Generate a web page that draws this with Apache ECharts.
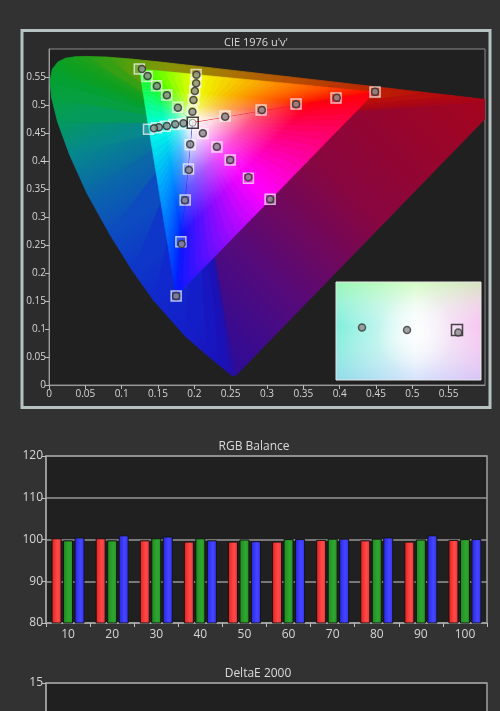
<!DOCTYPE html>
<html>
<head>
<meta charset="utf-8">
<title>Calibration report</title>
<script src="https://cdn.jsdelivr.net/npm/echarts@6/dist/echarts.min.js"></script>
<style>
  html, body { margin: 0; padding: 0; background: #323232; overflow: hidden; }
  #chart { width: 500px; height: 880px; }
</style>
</head>
<body>
<div id="chart"></div>
<script>
// ---- CIE 1931 2° spectral locus expressed in CIE 1976 u'v' (380–700 nm) ----
const locusNm = [380, 420, 430, 440, 450, 460, 470, 475, 480, 485, 490, 495, 500, 505, 510, 515,
                 520, 525, 530, 540, 550, 560, 570, 580, 590, 600, 610, 620, 630, 640, 650, 700];
const spectralLocus = [
  [0.2568, 0.0166], [0.2522, 0.0169], [0.2461, 0.0226], [0.2347, 0.0350], [0.2161, 0.0549],
  [0.1877, 0.0871], [0.1441, 0.1510], [0.1147, 0.2044], [0.0828, 0.2708], [0.0521, 0.3427],
  [0.0282, 0.4117], [0.0119, 0.4698], [0.0035, 0.5131], [0.0014, 0.5432], [0.0046, 0.5638],
  [0.0123, 0.5770], [0.0231, 0.5837], [0.0360, 0.5861], [0.0501, 0.5868], [0.0792, 0.5856],
  [0.1127, 0.5821], [0.1531, 0.5766], [0.2026, 0.5694], [0.2623, 0.5604], [0.3315, 0.5501],
  [0.4035, 0.5393], [0.4692, 0.5296], [0.5203, 0.5219], [0.5565, 0.5165], [0.5830, 0.5125],
  [0.6005, 0.5099], [0.6234, 0.5065]
];

// ---- Saturation sweeps (20, 40, 60, 80, 100 %) : targets and readings, u'v' ----
const sweepSteps = ['20%', '40%', '60%', '80%', '100%'];
const whiteTarget = [0.1978, 0.4683];
const whiteMeasured = [0.1976, 0.4682];

const redTargets     = [[0.2424, 0.4804], [0.2919, 0.4911], [0.3400, 0.5018], [0.3950, 0.5125], [0.4487, 0.5232]];
const redMeasured    = [[0.2424, 0.4791], [0.2929, 0.4911], [0.3400, 0.5013], [0.3960, 0.5130], [0.4487, 0.5238]];
const greenTargets   = [[0.1770, 0.4960], [0.1620, 0.5180], [0.1480, 0.5345], [0.1350, 0.5510], [0.1242, 0.5643]];
const greenMeasured  = [[0.1774, 0.4952], [0.1622, 0.5173], [0.1485, 0.5339], [0.1357, 0.5518], [0.1279, 0.5643]];
const blueTargets    = [[0.1943, 0.4290], [0.1919, 0.3857], [0.1874, 0.3304], [0.1815, 0.2559], [0.1750, 0.1589]];
const blueMeasured   = [[0.1943, 0.4298], [0.1925, 0.3840], [0.1870, 0.3300], [0.1825, 0.2520], [0.1750, 0.1589]];
const cyanTargets    = [[0.1840, 0.4665], [0.1720, 0.4650], [0.1600, 0.4620], [0.1480, 0.4595], [0.1369, 0.4566]];
const cyanMeasured   = [[0.1851, 0.4673], [0.1737, 0.4655], [0.1622, 0.4625], [0.1512, 0.4602], [0.1444, 0.4584]];
const magentaTargets = [[0.2120, 0.4490], [0.2312, 0.4250], [0.2493, 0.4018], [0.2744, 0.3691], [0.3043, 0.3316]];
const magentaMeasured= [[0.2117, 0.4495], [0.2310, 0.4255], [0.2493, 0.4018], [0.2744, 0.3709], [0.3043, 0.3316]];
const yellowTargets  = [[0.1975, 0.4890], [0.1990, 0.5095], [0.2005, 0.5255], [0.2020, 0.5400], [0.2025, 0.5545]];
const yellowMeasured = [[0.1974, 0.4880], [0.1988, 0.5089], [0.2007, 0.5250], [0.2025, 0.5388], [0.2029, 0.5541]];

// ---- White-point close-up ----
const insetTarget = [0.1978, 0.4683];
const insetMeasured = [[0.1940, 0.4684], [0.1958, 0.4683], [0.19785, 0.4682]];

// ---- RGB balance per grey level ----
const greyLevels = ['10', '20', '30', '40', '50', '60', '70', '80', '90', '100'];
const redBalance   = [100.3, 100.3, 99.8, 99.5, 99.5, 99.5, 99.9, 99.8, 99.5, 99.9];
const greenBalance = [99.8, 99.8, 100.3, 100.3, 100.0, 100.1, 100.2, 100.2, 100.0, 100.1];
const blueBalance  = [100.5, 101.0, 100.7, 99.8, 99.6, 100.1, 100.2, 100.5, 101.0, 100.1];

// ---- Styling ----
const FONT = '"Open Sans", "DejaVu Sans", sans-serif';
const locusShade = [
  '#2c0c98', '#260ea4', '#2010b0', '#1a12b8', '#1816c0', '#141ec8', '#1028cc', '#0e36c8',
  '#0c4cc0', '#0a68a8', '#06888c', '#049a5c', '#06a040', '#04a032', '#06a02c', '#0aa026',
  '#10a020', '#16a01e', '#1ea01a', '#36a014', '#589e0c', '#7e9806', '#9a8a02', '#ac6e00',
  '#b65000', '#ba3400', '#ba1c04', '#b60e0c', '#b00812', '#ac0616', '#a80518', '#a6041a'
];
const purpleLineStops = [[0, '#a6041a'], [0.45, '#880640'], [0.75, '#560a7a'], [1, '#2c0c98']];
// colours along the gamut edges R→G, G→B, B→R
const edgeStops = [
  [[0, '#ff0000'], [0.35, '#ff7800'], [0.76, '#f0ff00'], [1, '#20ff00']],
  [[0, '#20ff00'], [0.26, '#00ffe8'], [0.55, '#00a0ff'], [1, '#0018ff']],
  [[0, '#0018ff'], [0.47, '#ff00ff'], [1, '#ff0000']]
];
const whiteGlow = [[0, 'rgba(255,255,255,1)'], [0.12, 'rgba(255,255,255,0.85)'],
                   [0.38, 'rgba(255,255,255,0.3)'], [0.65, 'rgba(255,255,255,0)']];

function hexRgb(h) { const n = parseInt(h.slice(1), 16); return [n >> 16 & 255, n >> 8 & 255, n & 255]; }
function colorAt(stops, t) {
  for (let i = 0; i < stops.length - 1; i++) {
    const [o0, c0] = stops[i], [o1, c1] = stops[i + 1];
    if (t <= o1 || i === stops.length - 2) {
      const f = Math.max(0, Math.min(1, (t - o0) / (o1 - o0)));
      const a = hexRgb(c0), b = hexRgb(c1);
      return 'rgb(' + a.map((v, k) => Math.round(v + (b[k] - v) * f)).join(',') + ')';
    }
  }
  return stops[stops.length - 1][1];
}
function toStops(list) { return list.map(([offset, color]) => ({ offset, color })); }

// Fan of the spectral locus around the white point
function renderLocus(params, api) {
  const i = params.dataIndex;
  const n = spectralLocus.length;
  const j = (i + 1) % n;
  const w = api.coord(whiteTarget);
  const a = api.coord(spectralLocus[i]);
  const b = api.coord(spectralLocus[j]);
  const stops = j === 0 ? toStops(purpleLineStops)
                        : [{ offset: 0, color: locusShade[i] }, { offset: 1, color: locusShade[j] }];
  const g = new echarts.graphic.LinearGradient(a[0], a[1], b[0], b[1], stops, true);
  return { type: 'polygon', shape: { points: [w, a, b] }, style: { fill: g, stroke: g, lineWidth: 0.8 } };
}

// Rec.709 gamut triangle, bright and whitening towards the white point
const gamutCorners = [redTargets[4], greenTargets[4], blueTargets[4]];
function renderGamut(params, api) {
  const k = params.dataIndex;
  const a = api.coord(gamutCorners[k]);
  const b = api.coord(gamutCorners[(k + 1) % 3]);
  const w = api.coord(whiteTarget);
  const stops = edgeStops[k];
  const children = [];
  const N = 30;
  for (let s = 0; s < N; s++) {
    const t0 = s / N, t1 = (s + 1) / N;
    const p0 = [a[0] + (b[0] - a[0]) * t0, a[1] + (b[1] - a[1]) * t0];
    const p1 = [a[0] + (b[0] - a[0]) * t1, a[1] + (b[1] - a[1]) * t1];
    const g = new echarts.graphic.LinearGradient(p0[0], p0[1], p1[0], p1[1],
      [{ offset: 0, color: colorAt(stops, t0) }, { offset: 1, color: colorAt(stops, t1) }], true);
    children.push({ type: 'polygon', shape: { points: [w, p0, p1] }, style: { fill: g, stroke: g, lineWidth: 0.6 } });
  }
  // foot of the perpendicular from the white point onto this edge
  const dx = b[0] - a[0], dy = b[1] - a[1];
  const t = ((w[0] - a[0]) * dx + (w[1] - a[1]) * dy) / (dx * dx + dy * dy);
  const f = [a[0] + dx * t, a[1] + dy * t];
  children.push({
    type: 'polygon', shape: { points: [w, a, b] },
    style: { fill: new echarts.graphic.LinearGradient(w[0], w[1], f[0], f[1], toStops(whiteGlow), true) }
  });
  return { type: 'group', children };
}

const allTargets = [].concat(redTargets, greenTargets, blueTargets, cyanTargets, magentaTargets, yellowTargets);
const allMeasured = [].concat(redMeasured, greenMeasured, blueMeasured, cyanMeasured, magentaMeasured, yellowMeasured);

const labelStyle = { color: '#d6d6d6', fontFamily: FONT };
const chart = echarts.init(document.getElementById('chart'), null, { renderer: 'canvas' });

chart.setOption({
  backgroundColor: '#323232',
  animation: false,
  graphic: [
    { type: 'rect', z: -10, shape: { x: 22, y: 30.5, width: 468, height: 377 },
      style: { fill: '#2c2c2c', stroke: '#b6c1c1', lineWidth: 3 } },
    { type: 'text', x: 256, y: 43, style: { text: "CIE 1976 u'v'", font: '11px ' + FONT, fill: '#dcdcdc', textAlign: 'center', textVerticalAlign: 'middle' } },
    { type: 'text', x: 254, y: 447, style: { text: 'RGB Balance', font: '12px ' + FONT, fill: '#dcdcdc', textAlign: 'center', textVerticalAlign: 'middle' } },
    { type: 'text', x: 258, y: 674, style: { text: 'DeltaE 2000', font: '12px ' + FONT, fill: '#dcdcdc', textAlign: 'center', textVerticalAlign: 'middle' } },
    // white-point close-up backdrop
    { type: 'group', x: 336, y: 282, z: 20, children: [
      { type: 'rect', shape: { x: 0, y: 0, width: 145, height: 98 },
        style: { fill: new echarts.graphic.LinearGradient(0, 0, 1, 0, [
          { offset: 0, color: '#80eedc' }, { offset: 0.55, color: '#f4fbfb' }, { offset: 1, color: '#f6c6f0' }]) } },
      { type: 'rect', shape: { x: 0, y: 0, width: 145, height: 98 },
        style: { fill: new echarts.graphic.LinearGradient(0, 0, 0, 1, [
          { offset: 0, color: 'rgba(180,255,140,0.5)' }, { offset: 0.45, color: 'rgba(255,255,255,0)' },
          { offset: 1, color: 'rgba(170,190,255,0.4)' }]) } },
      { type: 'rect', shape: { x: 0, y: 0, width: 145, height: 98 },
        style: { fill: new echarts.graphic.RadialGradient(0.55, 0.52, 0.4, [
          { offset: 0, color: 'rgba(255,255,255,0.8)' }, { offset: 1, color: 'rgba(255,255,255,0)' }]) } },
      { type: 'rect', shape: { x: 0, y: 0, width: 145, height: 98 },
        style: { fill: 'none', stroke: '#e6e6e6', lineWidth: 1 } }
    ] }
  ],
  grid: [
    { left: 49, top: 49, width: 436, height: 336, show: true, backgroundColor: '#202020', borderColor: '#8a8a8a', borderWidth: 1 },
    { left: 336, top: 282, width: 145, height: 98, show: false },
    { left: 46, top: 456, width: 441, height: 167, show: true, backgroundColor: '#202020', borderColor: '#a0a0a0', borderWidth: 1.5 },
    { left: 46, top: 683, width: 441, height: 170, show: true, backgroundColor: '#202020', borderColor: '#a0a0a0', borderWidth: 1.5 }
  ],
  xAxis: [
    { type: 'value', gridIndex: 0, min: 0, max: 0.6, interval: 0.05,
      axisLine: { show: true, lineStyle: { color: '#9a9a9a' } },
      axisTick: { show: true, length: 4, lineStyle: { color: '#bcbcbc' } },
      axisLabel: Object.assign({ fontSize: 10, margin: 4, showMaxLabel: false }, labelStyle),
      splitLine: { show: false } },
    { type: 'value', gridIndex: 1, min: 0.19296, max: 0.19876, show: false },
    { type: 'category', gridIndex: 2, data: greyLevels,
      axisLine: { show: true, lineStyle: { color: '#a0a0a0', width: 1.5 } },
      axisTick: { show: true, length: 4, lineStyle: { color: '#c0c0c0' } },
      axisLabel: Object.assign({ fontSize: 12, margin: 6 }, labelStyle) },
    { type: 'category', gridIndex: 3, data: greyLevels,
      axisLine: { show: true, lineStyle: { color: '#a0a0a0' } },
      axisLabel: Object.assign({ fontSize: 12 }, labelStyle) }
  ],
  yAxis: [
    { type: 'value', gridIndex: 0, min: 0, max: 0.6, interval: 0.05,
      axisLine: { show: true, lineStyle: { color: '#9a9a9a' } },
      axisTick: { show: true, length: 4, lineStyle: { color: '#bcbcbc' } },
      axisLabel: Object.assign({ fontSize: 10, margin: 3, showMaxLabel: false }, labelStyle),
      splitLine: { show: false } },
    { type: 'value', gridIndex: 1, min: 0.4663, max: 0.47022, show: false },
    { type: 'value', gridIndex: 2, min: 80, max: 120, interval: 10,
      axisLine: { show: true, lineStyle: { color: '#a0a0a0', width: 1.5 } },
      axisTick: { show: true, length: 4, lineStyle: { color: '#c0c0c0' } },
      axisLabel: Object.assign({ fontSize: 12, margin: 3 }, labelStyle),
      splitLine: { show: true, lineStyle: { color: '#969696', width: 1.5 } } },
    { type: 'value', gridIndex: 3, min: 0, max: 15, interval: 5,
      axisLine: { show: true, lineStyle: { color: '#a0a0a0', width: 1.5 } },
      axisTick: { show: true, length: 4, lineStyle: { color: '#c0c0c0' } },
      axisLabel: Object.assign({ fontSize: 12, margin: 3 }, labelStyle),
      splitLine: { show: true, lineStyle: { color: '#969696', width: 1.5 } } }
  ],
  series: [
    { type: 'custom', name: 'Spectral locus', xAxisIndex: 0, yAxisIndex: 0, clip: true, z: 1,
      renderItem: renderLocus, data: spectralLocus.map((p, i) => [p[0], p[1], locusNm[i]]) },
    { type: 'custom', name: 'Rec.709', xAxisIndex: 0, yAxisIndex: 0, clip: true, z: 2,
      renderItem: renderGamut, data: gamutCorners },
    { type: 'scatter', name: 'Target', xAxisIndex: 0, yAxisIndex: 0, z: 4,
      symbol: 'rect', symbolSize: 10,
      itemStyle: { color: 'rgba(255,255,255,0.22)', borderColor: 'rgba(245,245,245,0.9)', borderWidth: 1.5 },
      data: allTargets },
    { type: 'scatter', name: 'Measured', xAxisIndex: 0, yAxisIndex: 0, z: 5,
      symbol: 'circle', symbolSize: 7,
      itemStyle: { color: '#8a8a8a', borderColor: '#2e2e2e', borderWidth: 1.5 },
      data: allMeasured },
    { type: 'scatter', name: 'White target', xAxisIndex: 0, yAxisIndex: 0, z: 5,
      symbol: 'rect', symbolSize: 11,
      itemStyle: { color: 'rgba(255,255,255,0)', borderColor: '#111', borderWidth: 1.5 },
      data: [whiteTarget] },
    { type: 'scatter', name: 'White measured', xAxisIndex: 0, yAxisIndex: 0, z: 6,
      symbol: 'circle', symbolSize: 7,
      itemStyle: { color: '#f4f4f4', borderColor: '#777', borderWidth: 1 },
      data: [whiteMeasured] },
    // white-point close-up
    { type: 'scatter', xAxisIndex: 1, yAxisIndex: 1, z: 30, symbol: 'rect', symbolSize: 11,
      itemStyle: { color: 'rgba(255,255,255,0)', borderColor: '#1a1a1a', borderWidth: 1.5 },
      data: [insetTarget] },
    { type: 'scatter', xAxisIndex: 1, yAxisIndex: 1, z: 31, symbol: 'circle', symbolSize: 7,
      itemStyle: { color: '#8c8c8c', borderColor: '#3a3a3a', borderWidth: 1.5 },
      data: insetMeasured },
    // RGB balance
    { type: 'bar', name: 'Red', xAxisIndex: 2, yAxisIndex: 2, barWidth: 10, barGap: '15%', z: 3,
      itemStyle: { borderColor: '#141414', borderWidth: 1,
        color: new echarts.graphic.LinearGradient(0, 0, 1, 0, [{ offset: 0, color: '#e41c1c' }, { offset: 0.6, color: '#ff4a4a' }, { offset: 1, color: '#f03434' }]) },
      data: redBalance },
    { type: 'bar', name: 'Green', xAxisIndex: 2, yAxisIndex: 2, barWidth: 10, barGap: '15%', z: 3,
      itemStyle: { borderColor: '#141414', borderWidth: 1,
        color: new echarts.graphic.LinearGradient(0, 0, 1, 0, [{ offset: 0, color: '#1c8a1c' }, { offset: 0.6, color: '#30a630' }, { offset: 1, color: '#229422' }]) },
      data: greenBalance },
    { type: 'bar', name: 'Blue', xAxisIndex: 2, yAxisIndex: 2, barWidth: 10, barGap: '15%', z: 3,
      itemStyle: { borderColor: '#141414', borderWidth: 1,
        color: new echarts.graphic.LinearGradient(0, 0, 1, 0, [{ offset: 0, color: '#2424e4' }, { offset: 0.6, color: '#4646ff' }, { offset: 1, color: '#3030f0' }]) },
      data: blueBalance }
  ]
});
</script>
</body>
</html>
